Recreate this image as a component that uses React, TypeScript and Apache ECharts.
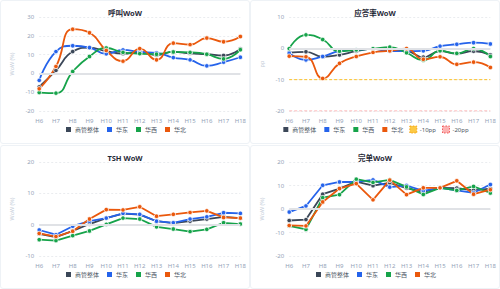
import React, { useEffect, useRef } from "react";
import * as echarts from "echarts";

const hours = ["H6", "H7", "H8", "H9", "H10", "H11", "H12", "H13", "H14", "H15", "H16", "H17", "H18"];
const regionNames = ["商管整体", "华东", "华西", "华北"];
const regionColors = ["#3b4758", "#2563eb", "#16a34a", "#ea580c"];

// 呼叫 WoW (%)
const callTotal = [-7.2, 1.6, 11.6, 13.7, 11.8, 10.5, 11.4, 9.8, 11.4, 10.7, 10.2, 9.5, 13.0];
const callEast = [-3.7, 11.6, 14.7, 13.7, 10.4, 12.5, 11.4, 10.9, 8.4, 7.2, 4.0, 6.0, 8.6];
const callWest = [-10.2, -10.5, 1.0, 9.0, 13.5, 11.2, 10.5, 10.2, 11.4, 11.2, 10.2, 7.7, 12.6];
const callNorth = [-8.2, 3.7, 23.5, 21.6, 12.2, 6.5, 13.2, 7.2, 16.1, 15.3, 18.8, 16.8, 19.6];

// 应答率 WoW (pp)
const answerTotal = [-1.4, -1.1, -2.7, -2.1, -0.9, -0.2, -0.5, -0.8, -2.8, -0.9, -1.7, -0.9, -2.1];
const answerEast = [-1.5, -3.7, -2.6, -0.9, -0.5, -0.2, -0.9, -0.9, -0.8, 0.7, 1.3, 1.8, 1.4];
const answerWest = [-0.1, 4.3, 2.8, -0.9, -0.5, -0.1, 0.4, -1.4, -3.8, -0.8, -1.6, -0.1, -2.6];
const answerNorth = [-2.5, -2.7, -9.6, -4.8, -2.6, -1.3, -0.8, -0.1, -3.5, -2.7, -5.1, -4.4, -6.1];
const warnLevel = [-10, -10, -10, -10, -10, -10, -10, -10, -10, -10, -10, -10, -10];
const alertLevel = [-20, -20, -20, -20, -20, -20, -20, -20, -20, -20, -20, -20, -20];

// TSH WoW (%)
const tshTotal = [-2.9, -4.0, -2.0, 0.2, 2.1, 3.5, 3.2, 1.1, 0.5, 1.1, 1.8, 2.5, 2.1];
const tshEast = [-1.7, -3.2, -0.5, 1.1, 2.1, 3.6, 3.3, 1.1, 0.6, 1.8, 2.5, 3.8, 3.6];
const tshWest = [-4.8, -5.1, -3.5, -2.0, 0.1, 2.1, 1.8, -0.7, -1.4, -2.2, -1.5, 0.6, 0.2];
const tshNorth = [-2.8, -3.8, -2.1, 1.8, 4.8, 4.7, 5.7, 2.7, 3.3, 3.9, 4.4, 2.3, 2.1];

// 完单 WoW (%)
const doneTotal = [-4.9, -4.5, 6.3, 8.7, 11.7, 9.9, 11.1, 8.9, 7.3, 9.0, 8.9, 7.9, 8.7];
const doneEast = [-1.3, 1.3, 10.1, 11.5, 11.5, 12.4, 9.3, 10.0, 7.7, 9.0, 7.9, 6.9, 10.4];
const doneWest = [-7.2, -8.7, 4.8, 6.1, 12.7, 11.3, 12.4, 9.4, 6.2, 9.0, 7.9, 9.6, 6.8];
const doneNorth = [-7.0, -7.2, 3.0, 8.7, 10.8, 3.9, 12.3, 6.1, 9.0, 9.0, 12.0, 6.3, 8.2];

const FONT = "'Noto Sans', 'Noto Sans CJK SC', sans-serif";

type PanelSpec = {
  title: string;
  unit: string;
  min: number;
  max: number;
  smooth: boolean;
  values: number[][];
  thresholds?: { name: string; data: number[]; color: string; edge: string }[];
};

const panels: PanelSpec[] = [
  { title: "呼叫WoW", unit: "WoW (%)", min: -20, max: 30, smooth: true, values: [callTotal, callEast, callWest, callNorth] },
  {
    title: "应答率WoW",
    unit: "pp",
    min: -20,
    max: 10,
    smooth: true,
    values: [answerTotal, answerEast, answerWest, answerNorth],
    thresholds: [
      { name: "-10pp", data: warnLevel, color: "#fbbf24", edge: "#f59e0b" },
      { name: "-20pp", data: alertLevel, color: "#fca5a5", edge: "#ef4444" },
    ],
  },
  { title: "TSH WoW", unit: "WoW (%)", min: -10, max: 20, smooth: false, values: [tshTotal, tshEast, tshWest, tshNorth] },
  { title: "完单WoW", unit: "WoW (%)", min: -20, max: 20, smooth: false, values: [doneTotal, doneEast, doneWest, doneNorth] },
];

function buildOption(p: PanelSpec): echarts.EChartsOption {
  const series: any[] = regionNames.map((name, i) => ({
    name,
    type: "line",
    data: p.values[i],
    smooth: p.smooth,
    symbol: "circle",
    symbolSize: 4.5,
    color: regionColors[i],
    lineStyle: { width: 1.8, color: regionColors[i] },
    itemStyle: { color: regionColors[i], borderColor: "#fff", borderWidth: 0.8 },
    ...(i === 0
      ? {
          markLine: {
            silent: true,
            symbol: "none",
            label: { show: false },
            lineStyle: { color: "#e0e2e6", width: 2, type: "solid" },
            data: [{ yAxis: 0 }],
          },
        }
      : {}),
  }));
  (p.thresholds || []).forEach((t) => {
    series.push({
      name: t.name,
      type: "line",
      data: t.data,
      showSymbol: false,
      symbol: "none",
      color: t.color,
      lineStyle: { width: 1, type: [3, 2], color: t.color },
      itemStyle: { color: t.color },
      z: 1,
    });
  });
  const legendData: any[] = [
    ...regionNames.map((n) => ({ name: n })),
    ...(p.thresholds || []).map((t) => ({
      name: t.name,
      itemStyle: { color: t.color, borderColor: t.edge, borderWidth: 1, borderType: [1.5, 1.5], opacity: 0.85 },
    })),
  ];
  return {
    animation: false,
    textStyle: { fontFamily: FONT },
    title: {
      text: p.title,
      left: "center",
      top: 3,
      textStyle: { fontSize: 7.5, fontWeight: "bold", color: "#1f2937", fontFamily: FONT },
    },
    legend: {
      data: legendData,
      bottom: 4,
      left: "center",
      icon: "rect",
      itemWidth: 7,
      itemHeight: 7,
      itemGap: 6,
      textStyle: { fontSize: 6, color: "#4b5563", fontFamily: FONT, padding: [0, 0, 0, -2] },
    },
    grid: { left: 27, right: 7, top: 16, bottom: 32, containLabel: false },
    xAxis: {
      type: "category",
      data: hours,
      boundaryGap: false,
      axisLine: { show: false },
      axisTick: { show: false },
      axisLabel: { fontSize: 6, color: "#94a3b8", margin: 7, fontFamily: FONT },
      splitLine: { show: false },
    },
    yAxis: {
      type: "value",
      min: p.min,
      max: p.max,
      interval: 10,
      name: p.unit,
      nameLocation: "middle",
      nameGap: 19,
      nameTextStyle: { fontSize: 5.5, color: "#c3ccd8", fontFamily: FONT },
      axisLine: { show: false },
      axisTick: { show: false },
      axisLabel: { fontSize: 6, color: "#94a3b8", margin: 5, fontFamily: FONT },
      splitLine: { lineStyle: { color: "#e5e7eb", type: [2, 2], width: 0.8 } },
    },
    series,
  };
}

function ChartPanel({ spec }: { spec: PanelSpec }) {
  const ref = useRef<HTMLDivElement>(null);
  useEffect(() => {
    if (!ref.current) return;
    const chart = echarts.init(ref.current, undefined, { renderer: "svg" });
    chart.setOption(buildOption(spec));
    return () => chart.dispose();
  }, [spec]);
  return <div ref={ref} style={{ width: "100%", height: "100%" }} />;
}

export default function App() {
  const boxes = [
    { left: 0, top: 0 },
    { left: 250, top: 0 },
    { left: 0, top: 145 },
    { left: 250, top: 145 },
  ];
  return (
    <div style={{ position: "fixed", left: 0, top: 0, width: 500, height: 289, background: "#fff" }}>
      {panels.map((p, i) => (
        <div
          key={p.title}
          style={{
            position: "absolute",
            left: boxes[i].left,
            top: boxes[i].top,
            width: 250,
            height: 144,
            boxSizing: "border-box",
            border: "1px solid #eef2f6",
            borderRadius: 3,
          }}
        >
          <ChartPanel spec={p} />
        </div>
      ))}
    </div>
  );
}
